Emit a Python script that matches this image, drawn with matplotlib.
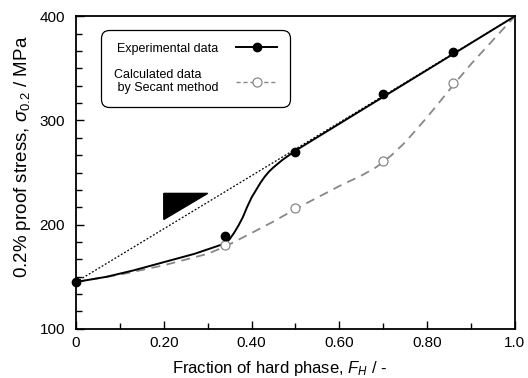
import numpy as np
import matplotlib
matplotlib.use("Agg")
import matplotlib.pyplot as plt
from matplotlib.ticker import MultipleLocator, FixedLocator
from matplotlib.lines import Line2D
from matplotlib.patches import Polygon

plt.rcParams['font.family'] = ['Liberation Sans', 'DejaVu Sans']
plt.rcParams['mathtext.fontset'] = 'custom'
plt.rcParams['mathtext.rm'] = 'Liberation Sans'
plt.rcParams['mathtext.it'] = 'Liberation Sans:italic'

# measured points
exp_x = [0.0, 0.34, 0.50, 0.70, 0.86]
exp_y = [145, 189, 270, 325, 366]
calc_x = [0.34, 0.50, 0.70, 0.86]
calc_y = [180, 216, 261, 336]

# curves
exp_curve_x = [0.0, 0.07, 0.13, 0.20, 0.27, 0.34, 0.35, 0.36, 0.37, 0.38, 0.39, 0.40, 0.41, 0.42,
               0.43, 0.44, 0.45, 0.47, 0.50, 1.0]
exp_curve_y = [145, 150, 156, 164, 172, 182, 186, 192, 199, 207, 217, 226, 233, 240,
               246, 251, 255, 262, 271, 400]
calc_curve_x = [0.0, 0.10, 0.20, 0.30, 0.34, 0.40, 0.45, 0.50, 0.55, 0.60, 0.65, 0.68, 0.70,
                0.72, 0.75, 0.80, 0.86, 0.90, 0.95, 1.0]
calc_curve_y = [145, 152, 161, 172, 179, 192, 203, 215, 226, 237, 247, 254, 260,
                267, 279, 303, 334, 354, 377, 400]

# rule of mixtures line
rom_x = [0.0, 1.0]
rom_y = [145, 400]

# triangle marker
tri_x = [0.20, 0.30, 0.20]
tri_y = [230, 230, 205]

fig = plt.figure(figsize=(5.28, 3.78), dpi=100)
ax = fig.add_axes([0.144, 0.130, 0.831, 0.827])

ax.plot(rom_x, rom_y, color='black', lw=0.9, linestyle=(0, (1.5, 1.5)), zorder=2)
ax.plot(calc_curve_x, calc_curve_y, color='#888888', lw=1.3, linestyle=(0, (5, 3.5)), zorder=3)
ax.plot(exp_curve_x, exp_curve_y, color='black', lw=1.4, zorder=4)
ax.plot(calc_x, calc_y, linestyle='none', marker='o', ms=6.5, mfc='white', mec='#888888', mew=0.9, zorder=5)
ax.plot(exp_x, exp_y, linestyle='none', marker='o', ms=6, color='black', zorder=6, clip_on=False)

ax.add_patch(Polygon(list(zip(tri_x, tri_y)), closed=True, color='black', zorder=3))

ax.set_xlim(0, 1.0)
ax.set_ylim(100, 400)
ax.xaxis.set_major_locator(FixedLocator([0, 0.2, 0.4, 0.6, 0.8, 1.0]))
ax.set_xticklabels(['0', '0.20', '0.40', '0.60', '0.80', '1.0'])
ax.xaxis.set_minor_locator(MultipleLocator(0.1))
ax.yaxis.set_major_locator(MultipleLocator(100))
ax.yaxis.set_minor_locator(MultipleLocator(100 / 6))
ax.tick_params(which='both', direction='in', top=False, right=False, labelsize=11, width=1)
ax.tick_params(which='major', length=6)
ax.tick_params(which='minor', length=4)
ax.tick_params(axis='x', pad=5)
ax.tick_params(axis='y', pad=8)
for s in ax.spines.values():
    s.set_linewidth(1.3)

ax.set_xlabel('Fraction of hard phase, $F_H$ / -', fontsize=12)
ax.set_ylabel(r'0.2% proof stress, $\sigma_{0.2}$ / MPa', fontsize=13.5)
ax.xaxis.set_label_coords(0.465, -0.098)
ax.yaxis.set_label_coords(-0.098, 0.552)

handles = [
    Line2D([], [], color='black', lw=1.4, marker='o', ms=6),
    Line2D([], [], color='#888888', lw=1.0, linestyle=(0, (3, 2)), marker='o', ms=6.5, mfc='white', mec='#888888', mew=0.9),
]
labels = ['Experimental data', 'Calculated data\n by Secant method']
leg = ax.legend(handles, labels, loc='upper left', bbox_to_anchor=(0.058, 0.955), markerfirst=False,
                fontsize=9, handlelength=3.3, handletextpad=1.4, labelspacing=1.1, borderpad=1.0,
                fancybox=True, framealpha=1, edgecolor='black', borderaxespad=0)
leg.get_frame().set_linewidth(0.9)
leg.get_frame().set_boxstyle('round', pad=0, rounding_size=0.6)

fig.savefig('out.png', dpi=100)
